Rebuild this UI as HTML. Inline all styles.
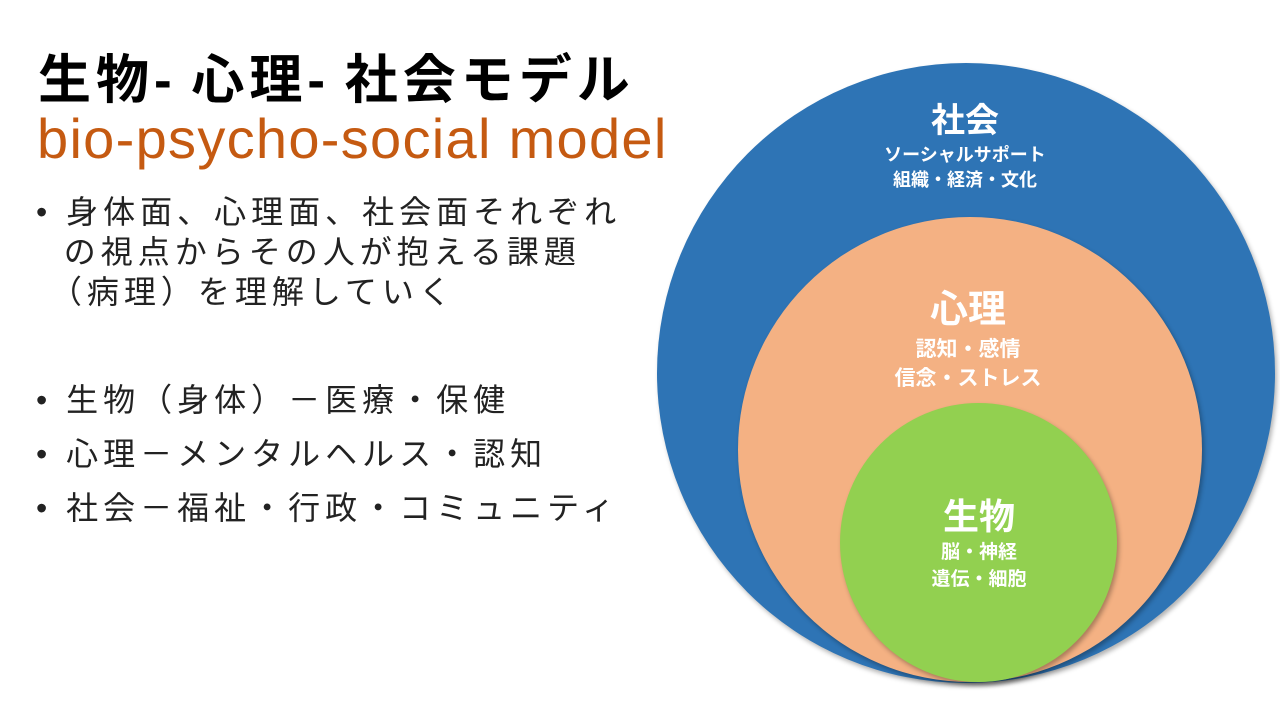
<!DOCTYPE html>
<html><head><meta charset="utf-8"><style>
body{margin:0;width:1280px;height:720px;background:#fff;overflow:hidden;position:relative;font-family:"Liberation Sans","Noto Sans CJK JP",sans-serif}
.t{position:absolute;white-space:nowrap}
.c{position:absolute;border-radius:50%}
.ct{position:absolute;color:#fff;text-align:center;font-weight:bold;width:300px;line-height:1.25}
</style></head><body>
<div class="t" style="left:38px;top:38px;font-size:53px;font-weight:bold;color:#000;letter-spacing:5px">生物<span style="letter-spacing:0">-</span>&nbsp;心理<span style="letter-spacing:0">-</span>&nbsp;社会モデル</div>
<div class="t" style="left:37px;top:106px;font-size:56px;color:#C55A11;letter-spacing:1.3px">bio-psycho-social model</div>
<div class="t" style="left:36px;top:192px;font-size:32px;line-height:40px;color:#222;letter-spacing:5px">•&nbsp;身体面、心理面、社会面それぞれ<br>&nbsp;&nbsp;の視点からその人が抱える課題<br>&nbsp;（病理）を理解していく</div>
<div class="t" style="left:36px;top:373px;font-size:32px;line-height:54px;color:#222;letter-spacing:5px">•&nbsp;生物（身体）－医療・保健<br>•&nbsp;心理－メンタルヘルス・認知<br>•&nbsp;社会－福祉・行政・コミュニティ</div>
<div class="c" style="left:657px;top:63px;width:618px;height:620px;background:#2E74B5;box-shadow:2px 3px 5px rgba(0,0,0,.3)"></div>
<div class="c" style="left:738px;top:217px;width:464px;height:465px;background:#F4B183;box-shadow:2px 3px 5px rgba(0,0,0,.3)"></div>
<div class="c" style="left:840px;top:403px;width:277px;height:279px;background:#92D050;box-shadow:2px 3px 5px rgba(0,0,0,.3)"></div>
<div class="ct" style="left:815px;top:100px"><div style="font-size:34px">社会</div><div style="font-size:18px;line-height:25px">ソーシャルサポート<br>組織・経済・文化</div></div>
<div class="ct" style="left:818px;top:287px"><div style="font-size:38px">心理</div><div style="font-size:21px;line-height:29px">認知・感情<br>信念・ストレス</div></div>
<div class="ct" style="left:829px;top:494px"><div style="font-size:36px">生物</div><div style="font-size:19px;line-height:27px">脳・神経<br>遺伝・細胞</div></div>
</body></html>
